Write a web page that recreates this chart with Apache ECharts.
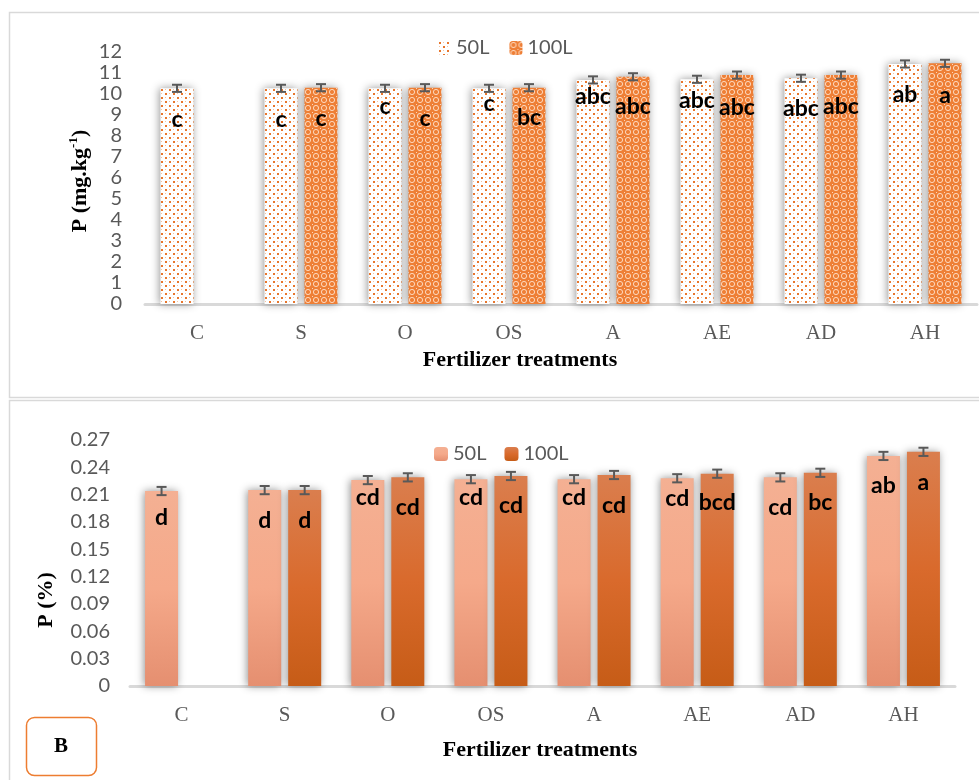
<!DOCTYPE html>
<html>
<head>
<meta charset="utf-8">
<script src="https://cdn.jsdelivr.net/npm/echarts@6/dist/echarts.min.js"></script>
<style>
  html, body { margin: 0; padding: 0; background: #fff; }
  #chart { width: 979px; height: 780px; }
</style>
</head>
<body>
<div id="chart"></div>
<script>
// Fertilizer treatments on the category axis
const categories = ['C', 'S', 'O', 'OS', 'A', 'AE', 'AD', 'AH'];

// Panel A: P (mg.kg-1)
const pSoil50 = [10.27, 10.27, 10.27, 10.27, 10.67, 10.70, 10.75, 11.43];
const pSoil100 = [null, 10.30, 10.30, 10.30, 10.82, 10.90, 10.90, 11.46];
const pSoilErr50 = [0.17, 0.17, 0.17, 0.17, 0.17, 0.17, 0.17, 0.17];
const pSoilErr100 = [null, 0.17, 0.17, 0.17, 0.17, 0.17, 0.17, 0.17];
const pSoilLetters50 = ['c', 'c', 'c', 'c', 'abc', 'abc', 'abc', 'ab'];
const pSoilLetters100 = ['', 'c', 'c', 'bc', 'abc', 'abc', 'abc', 'a'];
const pSoilTicks = [0, 1, 2, 3, 4, 5, 6, 7, 8, 9, 10, 11, 12];

// Panel B: P (%)
const pPlant50 = [0.214, 0.215, 0.226, 0.227, 0.227, 0.228, 0.229, 0.2525];
const pPlant100 = [null, 0.215, 0.229, 0.2305, 0.2316, 0.233, 0.234, 0.257];
const pPlantErr50 = [0.0045, 0.0045, 0.0045, 0.0045, 0.0045, 0.0045, 0.0045, 0.0045];
const pPlantErr100 = [null, 0.0045, 0.0045, 0.0045, 0.0045, 0.0045, 0.0045, 0.0045];
const pPlantLetters50 = ['d', 'd', 'cd', 'cd', 'cd', 'cd', 'cd', 'ab'];
const pPlantLetters100 = ['', 'd', 'cd', 'cd', 'cd', 'bcd', 'bc', 'a'];
const pPlantTicks = ['0', '0.03', '0.06', '0.09', '0.12', '0.15', '0.18', '0.21', '0.24', '0.27'];

// Where each letter sits below its bar top (px)
const soilLabelGap50 = [17, 17, 4, 1, 3, 7, 16, 17];
const soilLabelGap100 = [0, 17, 17, 16, 16, 18, 17, 18];
const plantLabelGap50 = [13, 16, 3, 4, 4, 6, 16, 16];
const plantLabelGap100 = [0, 16, 16, 16, 17, 15, 16, 17];

const BAR_W = 33, BAR_GAP = 7;
const SHIFT = (BAR_W + BAR_GAP) / 2;
const GREY = '#595959';
const SERIF = '"Liberation Serif", "Times New Roman", serif';
const SANS = 'Lato, "Liberation Sans", sans-serif';

// Dotted fill for 50L
function dotPattern() {
  const c = document.createElement('canvas');
  c.width = 8; c.height = 8;
  const g = c.getContext('2d');
  g.fillStyle = '#ffffff'; g.fillRect(0, 0, 8, 8);
  g.fillStyle = '#e8762c'; g.fillRect(1, 1, 2, 2); g.fillRect(5, 5, 2, 2);
  g.fillStyle = '#f6c39f'; g.fillRect(5, 1, 1, 1); g.fillRect(1, 5, 1, 1);
  return c;
}
// Lattice fill for 100L
function latticePattern() {
  const c = document.createElement('canvas');
  c.width = 8; c.height = 8;
  const g = c.getContext('2d');
  g.fillStyle = '#ee7f36'; g.fillRect(0, 0, 8, 8);
  g.strokeStyle = 'rgba(255,230,210,0.85)'; g.lineWidth = 1;
  g.beginPath(); g.arc(4, 4, 2.6, 0, Math.PI * 2); g.stroke();
  g.fillStyle = 'rgba(255,235,220,0.8)'; g.fillRect(0, 0, 1, 1);
  return c;
}
const fill50 = { image: dotPattern(), repeat: 'repeat' };
const fill100 = { image: latticePattern(), repeat: 'repeat' };
const grad50 = new echarts.graphic.LinearGradient(0, 0, 0, 1, [
  { offset: 0, color: '#f4b093' }, { offset: 0.5, color: '#f5a98a' }, { offset: 1, color: '#e58f70' }
]);
const grad100 = new echarts.graphic.LinearGradient(0, 0, 0, 1, [
  { offset: 0, color: '#da7e4e' }, { offset: 0.5, color: '#d96a2c' }, { offset: 1, color: '#c65c17' }
]);

const barShadow = { shadowBlur: 8, shadowColor: 'rgba(0,0,0,0.42)', shadowOffsetX: -1 };

function barData(values, letters, gaps) {
  return values.map((v, i) => v == null ? '-' : {
    value: v,
    label: { formatter: letters[i], distance: gaps[i] }
  });
}

function barSeries(name, grid, values, letters, gaps, color) {
  return {
    name: name, type: 'bar', xAxisIndex: grid, yAxisIndex: grid,
    barWidth: BAR_W, barGap: (BAR_GAP / BAR_W * 100) + '%',
    data: barData(values, letters, gaps),
    itemStyle: Object.assign({ color: color }, barShadow),
    label: {
      show: true, position: 'insideTop', color: '#000',
      fontFamily: SANS, fontWeight: 'bold', fontSize: 23, lineHeight: 28
    },
    emphasis: { disabled: true }
  };
}

function errSeries(grid, values, errs, dir) {
  const data = values.map((v, i) => v == null ? null : [i, v, errs[i]]).filter(d => d);
  return {
    type: 'custom', xAxisIndex: grid, yAxisIndex: grid, z: 5, silent: true,
    data: data,
    renderItem: function (params, api) {
      const cat = api.value(0), v = api.value(1), e = api.value(2);
      const x = api.coord([cat, v])[0] + dir * SHIFT;
      const yHi = api.coord([cat, v + e])[1];
      const yLo = api.coord([cat, v - e])[1];
      const st = { stroke: GREY, lineWidth: 2 };
      return {
        type: 'group', children: [
          { type: 'line', shape: { x1: x, y1: yHi, x2: x, y2: yLo }, style: st },
          { type: 'line', shape: { x1: x - 5, y1: yHi, x2: x + 5, y2: yHi }, style: st },
          { type: 'line', shape: { x1: x - 5, y1: yLo, x2: x + 5, y2: yLo }, style: st }
        ]
      };
    }
  };
}

function xAxisFor(grid) {
  return {
    type: 'category', gridIndex: grid, data: categories,
    axisLine: { lineStyle: { color: '#d9d9d9', width: 3 } },
    axisTick: { show: false },
    axisLabel: { color: GREY, fontFamily: SERIF, fontSize: 21, margin: 19 }
  };
}

const chart = echarts.init(document.getElementById('chart'), null, { renderer: 'canvas' });
chart.setOption({
  backgroundColor: '#fff',
  animation: false,
  grid: [
    { left: 145, right: 2, top: 52, height: 252 },
    { left: 130, right: 24, top: 440, height: 246 }
  ],
  legend: [
    {
      data: ['50L', '100L'], left: 433, top: 33, itemWidth: 13, itemHeight: 14, itemGap: 20,
      textStyle: { color: GREY, fontFamily: SANS, fontSize: 20 }, selectedMode: false
    },
    {
      data: ['50L (%)', '100L (%)'], left: 429, top: 439, itemWidth: 14, itemHeight: 14, itemGap: 18,
      formatter: n => n.replace(' (%)', ''),
      textStyle: { color: GREY, fontFamily: SANS, fontSize: 20 }, selectedMode: false
    }
  ],
  xAxis: [xAxisFor(0), xAxisFor(1)],
  yAxis: [
    {
      type: 'value', gridIndex: 0, min: pSoilTicks[0], max: pSoilTicks[pSoilTicks.length - 1], interval: 1,
      splitLine: { show: false }, axisLine: { show: false }, axisTick: { show: false },
      axisLabel: { color: GREY, fontFamily: SANS, fontSize: 20, margin: 23 }
    },
    {
      type: 'value', gridIndex: 1, min: 0, max: 0.27, interval: 0.03,
      splitLine: { show: false }, axisLine: { show: false }, axisTick: { show: false },
      axisLabel: {
        color: GREY, fontFamily: SANS, fontSize: 20, margin: 20,
        formatter: v => pPlantTicks[Math.round(v / 0.03)]
      }
    }
  ],
  series: [
    barSeries('50L', 0, pSoil50, pSoilLetters50, soilLabelGap50, fill50),
    barSeries('100L', 0, pSoil100, pSoilLetters100, soilLabelGap100, fill100),
    errSeries(0, pSoil50, pSoilErr50, -1),
    errSeries(0, pSoil100, pSoilErr100, 1),
    barSeries('50L (%)', 1, pPlant50, pPlantLetters50, plantLabelGap50, grad50),
    barSeries('100L (%)', 1, pPlant100, pPlantLetters100, plantLabelGap100, grad100),
    errSeries(1, pPlant50, pPlantErr50, -1),
    errSeries(1, pPlant100, pPlantErr100, 1)
  ],
  graphic: [
    { type: 'rect', z: -10, shape: { x: 9.5, y: 12.5, width: 990, height: 385 },
      style: { fill: 'none', stroke: '#d9d9d9', lineWidth: 1.5 } },
    { type: 'rect', z: -10, shape: { x: 9.5, y: 400.5, width: 990, height: 400 },
      style: { fill: 'none', stroke: '#d9d9d9', lineWidth: 1.5 } },
    { type: 'rect', shape: { x: 26.5, y: 717.5, width: 70, height: 58, r: 8 },
      style: { fill: '#fff', stroke: '#ed7d31', lineWidth: 1.5 } },
    { type: 'text', x: 61, y: 747, style: { text: 'B', fill: '#000', font: 'bold 21px ' + SERIF, align: 'center', verticalAlign: 'middle' } },
    { type: 'text', x: 520, y: 360, style: { text: 'Fertilizer treatments', fill: '#000', font: 'bold 22px ' + SERIF, align: 'center', verticalAlign: 'middle' } },
    { type: 'text', x: 540, y: 750, style: { text: 'Fertilizer treatments', fill: '#000', font: 'bold 22px ' + SERIF, align: 'center', verticalAlign: 'middle' } },
    { type: 'text', x: 80, y: 181, rotation: Math.PI / 2,
      style: {
        text: '{m|P (mg.kg}{s|-1}{m|)}', align: 'center', verticalAlign: 'middle',
        rich: {
          m: { fontFamily: SERIF, fontWeight: 'bold', fontSize: 22, fill: '#000', lineHeight: 26 },
          s: { fontFamily: SERIF, fontWeight: 'bold', fontSize: 13, fill: '#000', verticalAlign: 'top', lineHeight: 26, padding: [0, 0, 10, 0] }
        }
      } },
    { type: 'text', x: 46, y: 600, rotation: Math.PI / 2,
      style: { text: 'P (%)', fill: '#000', font: 'bold 22px ' + SERIF, align: 'center', verticalAlign: 'middle' } }
  ]
});
</script>
</body>
</html>
